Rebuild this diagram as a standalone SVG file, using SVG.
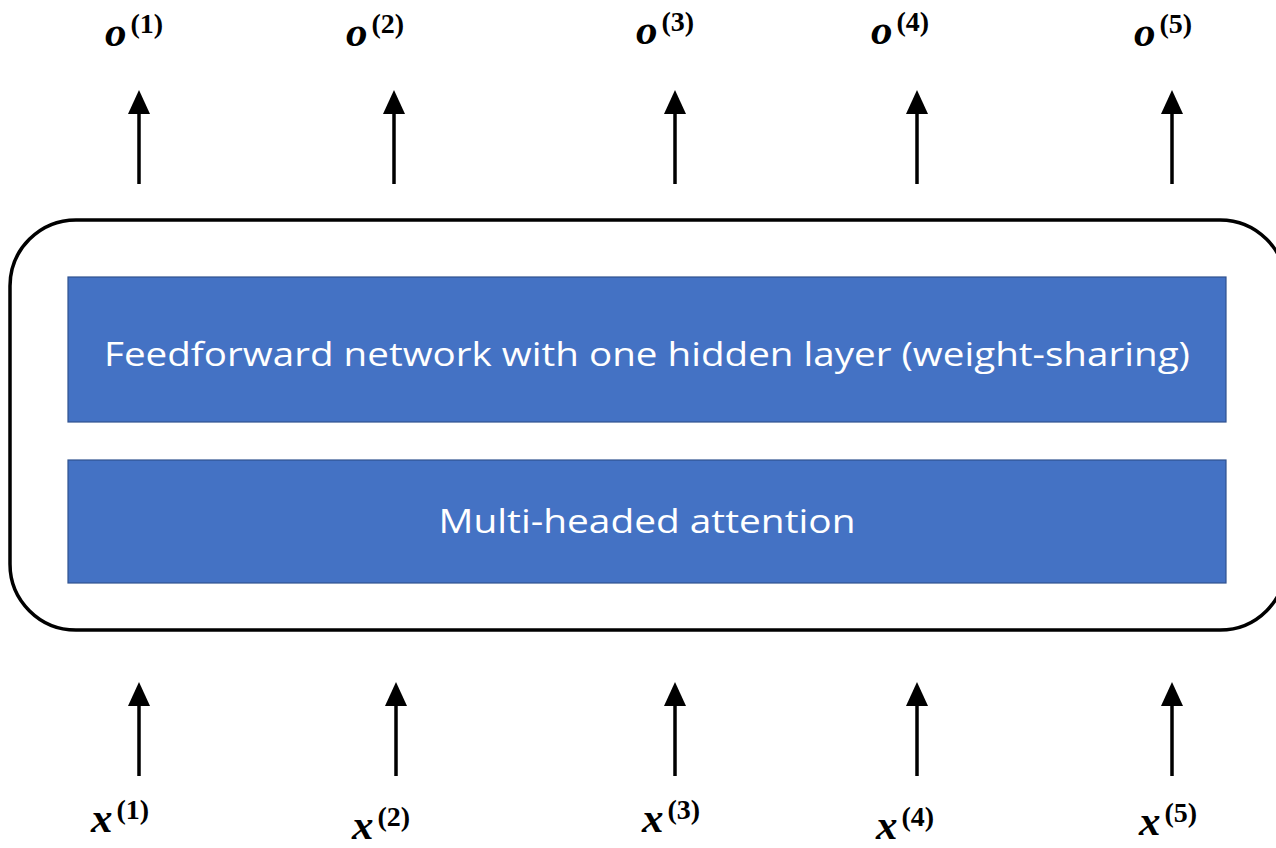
<svg xmlns="http://www.w3.org/2000/svg" width="1276" height="848" viewBox="0 0 1276 848">
  <style>
    .frame { fill: none; stroke: #000; stroke-width: 3.5; }
    .layer { fill: #4472C4; stroke: #2F528F; stroke-width: 1.2; }
    .layer-text { fill: #fff; font-family: "Open Sans", "Noto Sans", sans-serif; font-size: 33px; }
    .conn { stroke: #000; stroke-width: 3.5; fill: none; marker-end: url(#head); }
    .var { font-family: "Liberation Serif", "DejaVu Serif", serif; font-weight: bold; fill: #000; }
    .base { font-style: italic; font-size: 43px; }
    .sup { font-size: 28px; }
  </style>
  <defs>
    <marker id="head" markerUnits="userSpaceOnUse" markerWidth="24" markerHeight="24" viewBox="0 0 24 24" refX="2" refY="12" orient="auto">
      <path d="M0,1 L24,12 L0,23 Z" fill="#000"/>
    </marker>
  </defs>

  <rect width="1276" height="848" fill="#fff"/>

  <!-- encoder block outline -->
  <g id="encoder-block">
    <rect class="frame" x="10" y="220" width="1276" height="410" rx="66" ry="66"/>
  </g>

  <g id="feedforward">
    <rect class="layer" x="68" y="277" width="1158" height="145"/>
    <text class="layer-text" x="647" y="366" text-anchor="middle" textLength="1086" lengthAdjust="spacingAndGlyphs">Feedforward network with one hidden layer (weight-sharing)</text>
  </g>

  <g id="attention">
    <rect class="layer" x="68" y="460" width="1158" height="123"/>
    <text class="layer-text" x="647" y="533" text-anchor="middle" textLength="417" lengthAdjust="spacingAndGlyphs">Multi-headed attention</text>
  </g>

  <!-- inputs and outputs -->
  <g id="connectors">
    <line class="conn" x1="139" y1="184" x2="139" y2="112"/>
    <line class="conn" x1="394" y1="184" x2="394" y2="112"/>
    <line class="conn" x1="675" y1="184" x2="675" y2="112"/>
    <line class="conn" x1="917" y1="184" x2="917" y2="112"/>
    <line class="conn" x1="1172" y1="184" x2="1172" y2="112"/>

    <line class="conn" x1="139" y1="776" x2="139" y2="704"/>
    <line class="conn" x1="396" y1="776" x2="396" y2="704"/>
    <line class="conn" x1="675" y1="776" x2="675" y2="704"/>
    <line class="conn" x1="917" y1="776" x2="917" y2="704"/>
    <line class="conn" x1="1172" y1="776" x2="1172" y2="704"/>
  </g>

  <g id="o1"><text class="var" x="105" y="46"><tspan class="base">o</tspan><tspan class="sup" dx="4" dy="-13">(1)</tspan></text></g>
  <g id="o2"><text class="var" x="346" y="46"><tspan class="base">o</tspan><tspan class="sup" dx="4" dy="-13">(2)</tspan></text></g>
  <g id="o3"><text class="var" x="636" y="44"><tspan class="base">o</tspan><tspan class="sup" dx="4" dy="-13">(3)</tspan></text></g>
  <g id="o4"><text class="var" x="871" y="44"><tspan class="base">o</tspan><tspan class="sup" dx="4" dy="-13">(4)</tspan></text></g>
  <g id="o5"><text class="var" x="1134" y="46"><tspan class="base">o</tspan><tspan class="sup" dx="4" dy="-13">(5)</tspan></text></g>

  <g id="x1"><text class="var" x="91" y="832"><tspan class="base">x</tspan><tspan class="sup" dx="4" dy="-13">(1)</tspan></text></g>
  <g id="x2"><text class="var" x="352" y="839"><tspan class="base">x</tspan><tspan class="sup" dx="4" dy="-13">(2)</tspan></text></g>
  <g id="x3"><text class="var" x="642" y="832"><tspan class="base">x</tspan><tspan class="sup" dx="4" dy="-13">(3)</tspan></text></g>
  <g id="x4"><text class="var" x="876" y="839"><tspan class="base">x</tspan><tspan class="sup" dx="4" dy="-13">(4)</tspan></text></g>
  <g id="x5"><text class="var" x="1139" y="835"><tspan class="base">x</tspan><tspan class="sup" dx="4" dy="-13">(5)</tspan></text></g>
</svg>
